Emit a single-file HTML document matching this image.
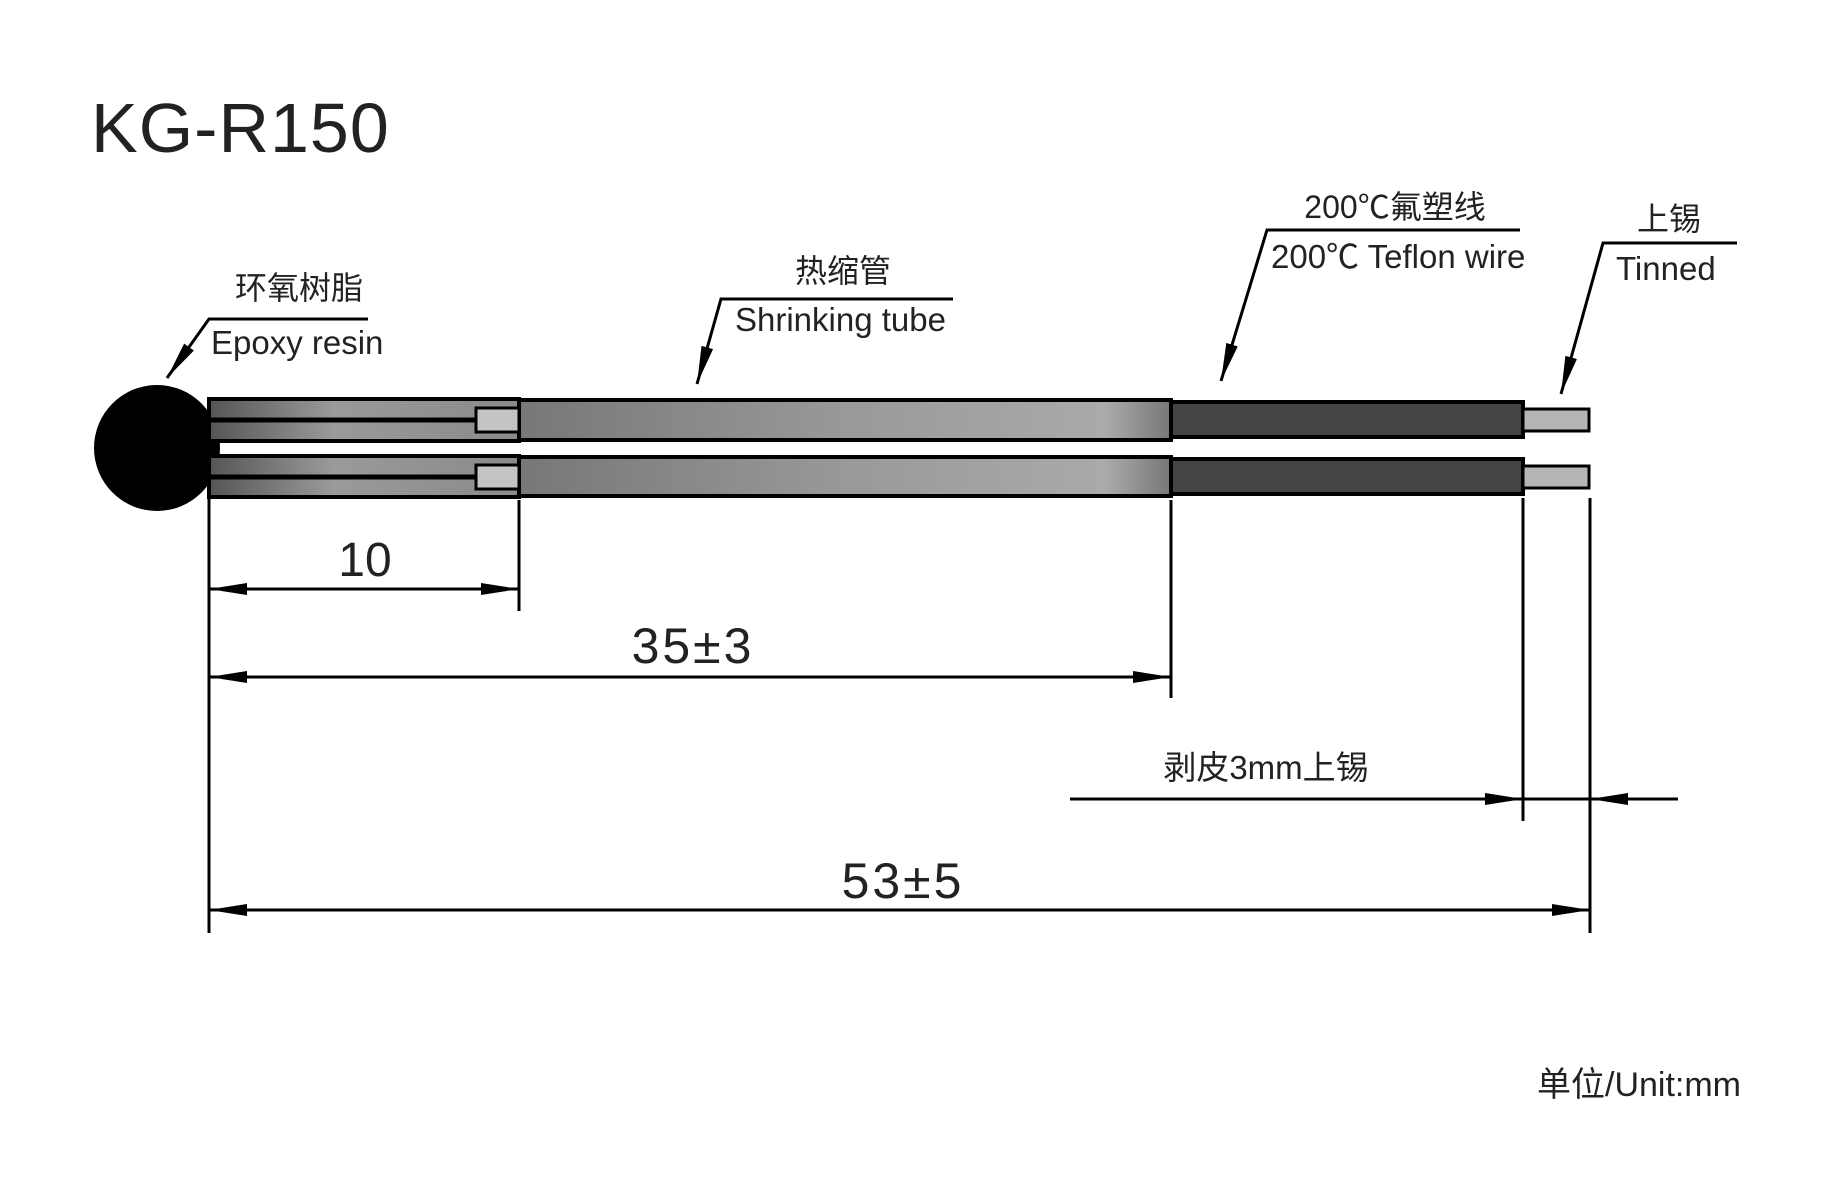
<!DOCTYPE html>
<html><head><meta charset="utf-8"><style>
html,body{margin:0;padding:0;background:#fff;width:1830px;height:1193px;overflow:hidden}
svg{display:block}
text{font-family:"Liberation Sans","Noto Sans CJK SC",sans-serif;fill:#222}
</style></head><body>
<svg width="1830" height="1193" viewBox="0 0 1830 1193" xmlns="http://www.w3.org/2000/svg">
<defs>
<linearGradient id="g1" x1="0" x2="1" y1="0" y2="0">
<stop offset="0" stop-color="#555"/><stop offset="0.4" stop-color="#9a9a9a"/><stop offset="1" stop-color="#8a8a8a"/>
</linearGradient>
<linearGradient id="g2" x1="0" x2="1" y1="0" y2="0">
<stop offset="0" stop-color="#777"/><stop offset="0.5" stop-color="#999"/><stop offset="0.9" stop-color="#aaa"/><stop offset="1" stop-color="#777"/>
</linearGradient>
<marker id="a" viewBox="0 0 38 12" refX="38" refY="6" markerWidth="38" markerHeight="12" markerUnits="userSpaceOnUse" orient="auto-start-reverse"><path d="M0,0 L38,6 L0,12 z" fill="#000"/></marker>
</defs>
<text x="91" y="152" font-size="70" fill="#333" style="letter-spacing:1px">KG-R150</text>

<circle cx="157" cy="448" r="63" fill="#000"/>
<g stroke="#000" stroke-width="4">
<rect x="209" y="399" width="310" height="42" fill="url(#g1)"/>
<rect x="209" y="456" width="310" height="41" fill="url(#g1)"/>
<rect x="519" y="400" width="652" height="40" fill="url(#g2)"/>
<rect x="519" y="457" width="652" height="39" fill="url(#g2)"/>
<rect x="1171" y="402" width="352" height="35" fill="#444"/>
<rect x="1171" y="459" width="352" height="35" fill="#444"/>
<rect x="1523" y="409" width="66" height="22" fill="#b5b5b5" stroke-width="3"/>
<rect x="1523" y="466" width="66" height="22" fill="#b5b5b5" stroke-width="3"/>
<rect x="476" y="408" width="43" height="24" fill="#c4c4c4" stroke-width="3"/>
<rect x="476" y="465" width="43" height="24" fill="#c4c4c4" stroke-width="3"/>
<line x1="209" y1="420" x2="476" y2="420" stroke-width="5"/>
<line x1="209" y1="477" x2="476" y2="477" stroke-width="5"/>
</g>

<g stroke="#000" stroke-width="3" fill="none">
<line x1="209" y1="498" x2="209" y2="933"/>
<line x1="519" y1="500" x2="519" y2="611"/>
<line x1="1171" y1="500" x2="1171" y2="698"/>
<line x1="1523" y1="498" x2="1523" y2="821"/>
<line x1="1590" y1="498" x2="1590" y2="933"/>
<line x1="209" y1="589" x2="519" y2="589" marker-start="url(#a)" marker-end="url(#a)"/>
<line x1="209" y1="677" x2="1171" y2="677" marker-start="url(#a)" marker-end="url(#a)"/>
<line x1="209" y1="910" x2="1590" y2="910" marker-start="url(#a)" marker-end="url(#a)"/>
<line x1="1070" y1="799" x2="1523" y2="799" marker-end="url(#a)"/>
<line x1="1523" y1="799" x2="1590" y2="799"/>
<line x1="1678" y1="799" x2="1590" y2="799" marker-end="url(#a)"/>
<polyline points="368,319 209,319 167,378" marker-end="url(#a)"/>
<polyline points="953,299 721,299 697,384" marker-end="url(#a)"/>
<polyline points="1520,230 1267,230 1221,381" marker-end="url(#a)"/>
<polyline points="1737,243 1603,243 1561,394" marker-end="url(#a)"/>
</g>

<text x="365" y="576" font-size="48" text-anchor="middle">10</text>
<text x="693" y="663" font-size="50" text-anchor="middle" style="letter-spacing:3px">35±3</text>
<text x="903" y="898" font-size="50" text-anchor="middle" style="letter-spacing:3px">53±5</text>
<text x="1266" y="779" font-size="33" text-anchor="middle">剥皮3mm上锡</text>

<text x="299" y="299" font-size="32" text-anchor="middle">环氧树脂</text>
<text x="211" y="354" font-size="33">Epoxy resin</text>
<text x="843" y="282" font-size="32" text-anchor="middle">热缩管</text>
<text x="735" y="331" font-size="33">Shrinking tube</text>
<text x="1395" y="218" font-size="32" text-anchor="middle">200℃氟塑线</text>
<text x="1271" y="268" font-size="33">200℃ Teflon wire</text>
<text x="1669" y="230" font-size="32" text-anchor="middle">上锡</text>
<text x="1616" y="280" font-size="33">Tinned</text>
<text x="1741" y="1096" font-size="34" text-anchor="end">单位/Unit:mm</text>
</svg>
</body></html>
